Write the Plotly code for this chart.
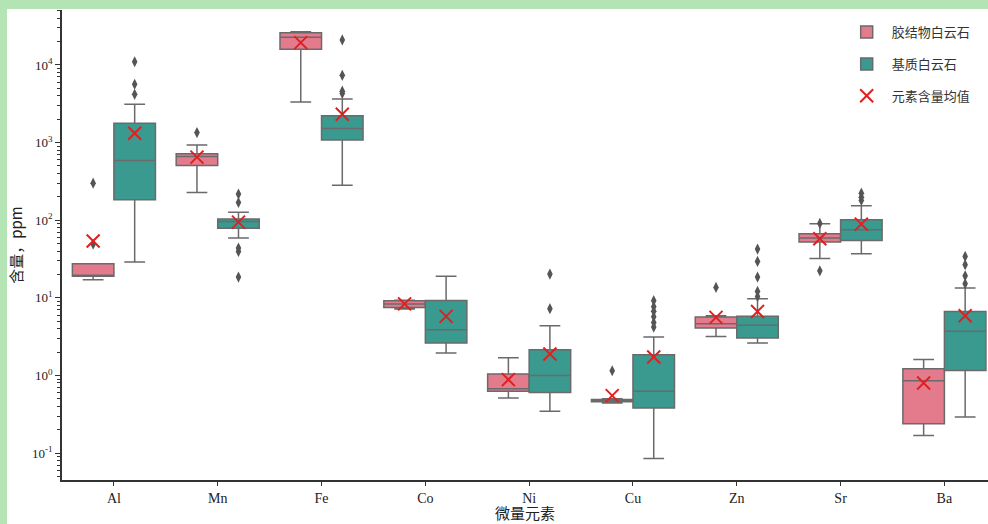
import plotly.graph_objects as go

# trace element categories
elements = ["Al", "Mn", "Fe", "Co", "Ni", "Cu", "Zn", "Sr", "Ba"]

# log-axis ticks
y_tickvals = [0.1, 1, 10, 100, 1000, 10000]
y_ticktext = ["10<sup>-1</sup>", "10<sup>0</sup>", "10<sup>1</sup>", "10<sup>2</sup>", "10<sup>3</sup>", "10<sup>4</sup>"]

# 胶结物白云石 (cement dolomite) box stats, ppm
cem_lo = [17.1, 228, 3340, 7.2, 0.513, 0.443, 3.18, 32.1, 0.168]
cem_q1 = [18.9, 506, 15900, 7.52, 0.624, 0.458, 4.08, 52.3, 0.238]
cem_med = [19.5, 661, 22700, 8.3, 0.676, 0.47, 4.65, 58.9, 0.857]
cem_q3 = [27.5, 716, 26000, 9.18, 1.045, 0.49, 5.66, 66.8, 1.22]
cem_hi = [27.5, 934, 26800, 9.3, 1.69, 0.5, 5.89, 90, 1.6]
cem_mean = [54, 649, 19400, 8.35, 0.883, 0.55, 5.6, 57.7, 0.80]
cem_out = [[300, 49], [1345], [], [], [], [1.15], [13.6], [90.8, 22.3], []]

# 基质白云石 (matrix dolomite) box stats, ppm
mat_lo = [28.9, 58.9, 283, 1.95, 0.345, 0.085, 2.62, 37, 0.292]
mat_q1 = [183, 79, 1083, 2.62, 0.605, 0.382, 3.04, 54.8, 1.16]
mat_med = [586, 96, 1514, 3.88, 1.0, 0.624, 4.42, 75.2, 3.7]
mat_q3 = [1778, 104, 2210, 9.27, 2.15, 1.85, 5.77, 101, 6.68]
mat_hi = [3120, 127, 3650, 18.9, 4.37, 3.13, 9.73, 154, 13.4]
mat_mean = [1320, 94.4, 2318, 5.77, 1.89, 1.73, 6.68, 89, 5.89]
mat_out = [[11000, 5640, 4190], [217, 169, 43.8, 39.5, 18.5], [21000, 7360, 4600, 4300], [],
           [20.2, 7.24], [9.2, 7.7, 6.7, 5.7, 4.8, 4.2], [42.5, 29.4, 18.5, 12.1, 10.4],
           [223, 198, 180], [34.1, 26.7, 19.2, 15.2]]

PINK = "#e47b8c"
TEAL = "#3b9a90"
EDGE = "#6a6a6a"
LATIN = "Liberation Serif, Times New Roman, serif"
CJK = "Noto Sans CJK SC, sans-serif"


def flat(outs):
    xs, ys = [], []
    for el, vals in zip(elements, outs):
        xs += [el] * len(vals)
        ys += vals
    return xs, ys


fig = go.Figure()

for name, grp, color, lo, q1, med, q3, hi in [
    ("胶结物白云石", "cem", PINK, cem_lo, cem_q1, cem_med, cem_q3, cem_hi),
    ("基质白云石", "mat", TEAL, mat_lo, mat_q1, mat_med, mat_q3, mat_hi),
]:
    fig.add_trace(go.Box(x=elements, q1=q1, median=med, q3=q3, lowerfence=lo, upperfence=hi,
                         name=name, offsetgroup=grp, legendgroup=grp,
                         fillcolor=color, line=dict(color=EDGE, width=1.5),
                         whiskerwidth=0.5, boxpoints=False))

for grp, outs in [("cem", cem_out), ("mat", mat_out)]:
    ox, oy = flat(outs)
    fig.add_trace(go.Scatter(x=ox, y=oy, mode="markers", offsetgroup=grp, showlegend=False,
                             marker=dict(symbol="diamond-tall", size=8, color="#555555")))

for grp, means, show in [("cem", cem_mean, True), ("mat", mat_mean, False)]:
    fig.add_trace(go.Scatter(x=elements, y=means, mode="markers", offsetgroup=grp,
                             name="元素含量均值", legendgroup="mean", showlegend=show,
                             marker=dict(symbol="x-thin", size=13,
                                         line=dict(color="#e02020", width=2))))

fig.update_layout(
    width=988, height=524,
    margin=dict(l=62, r=0, t=10, b=43.5, autoexpand=False),
    paper_bgcolor="white", plot_bgcolor="white",
    boxmode="group", boxgap=0.2, boxgroupgap=0,
    scattermode="group", scattergap=0.2,
    font=dict(family=LATIN, color="#222222"),
    legend=dict(x=0.842, y=0.985, xanchor="left", yanchor="top",
                font=dict(family=CJK, size=13, color="#333333"),
                bgcolor="rgba(0,0,0,0)", tracegroupgap=12, itemwidth=40),
    # x-axis title sits low, as in the source picture
    annotations=[dict(text="微量元素", xref="paper", yref="paper", x=0.5, y=0,
                      xanchor="center", yanchor="top", yshift=-21, showarrow=False,
                      borderpad=0, font=dict(family=CJK, size=15, color="#222222"))],
    # light green frame strips of the source picture
    shapes=[
        dict(type="rect", xref="paper", yref="paper", x0=-0.07, x1=-0.0594, y0=-0.1, y1=1.05,
             fillcolor="#b4e3b4", line_width=0, layer="below"),
        dict(type="rect", xref="paper", yref="paper", x0=-0.07, x1=1.0, y0=1.002, y1=1.05,
             fillcolor="#b4e3b4", line_width=0, layer="below"),
    ],
)

fig.update_xaxes(
    range=[-0.5, 8.42], showline=True, linecolor="#333333", linewidth=1.5, mirror=False,
    ticks="outside", ticklen=4, tickcolor="#333333", tickfont=dict(size=14),
    showgrid=False, zeroline=False, automargin=False,
)
fig.update_yaxes(
    type="log", range=[-1.347, 4.708], tickvals=y_tickvals, ticktext=y_ticktext,
    showline=True, linecolor="#333333", linewidth=1.5, mirror=True,
    ticks="outside", ticklen=5, tickcolor="#333333", tickfont=dict(size=13),
    minor=dict(ticks="outside", ticklen=3, dtick="D1", tickcolor="#333333", showgrid=False),
    title=dict(text="含量，ppm", font=dict(family=CJK, size=15), standoff=6),
    showgrid=False, zeroline=False, automargin=False,
)

fig.write_html("out.html", config={"displayModeBar": False},
               post_script="document.body.style.margin='0px';")
